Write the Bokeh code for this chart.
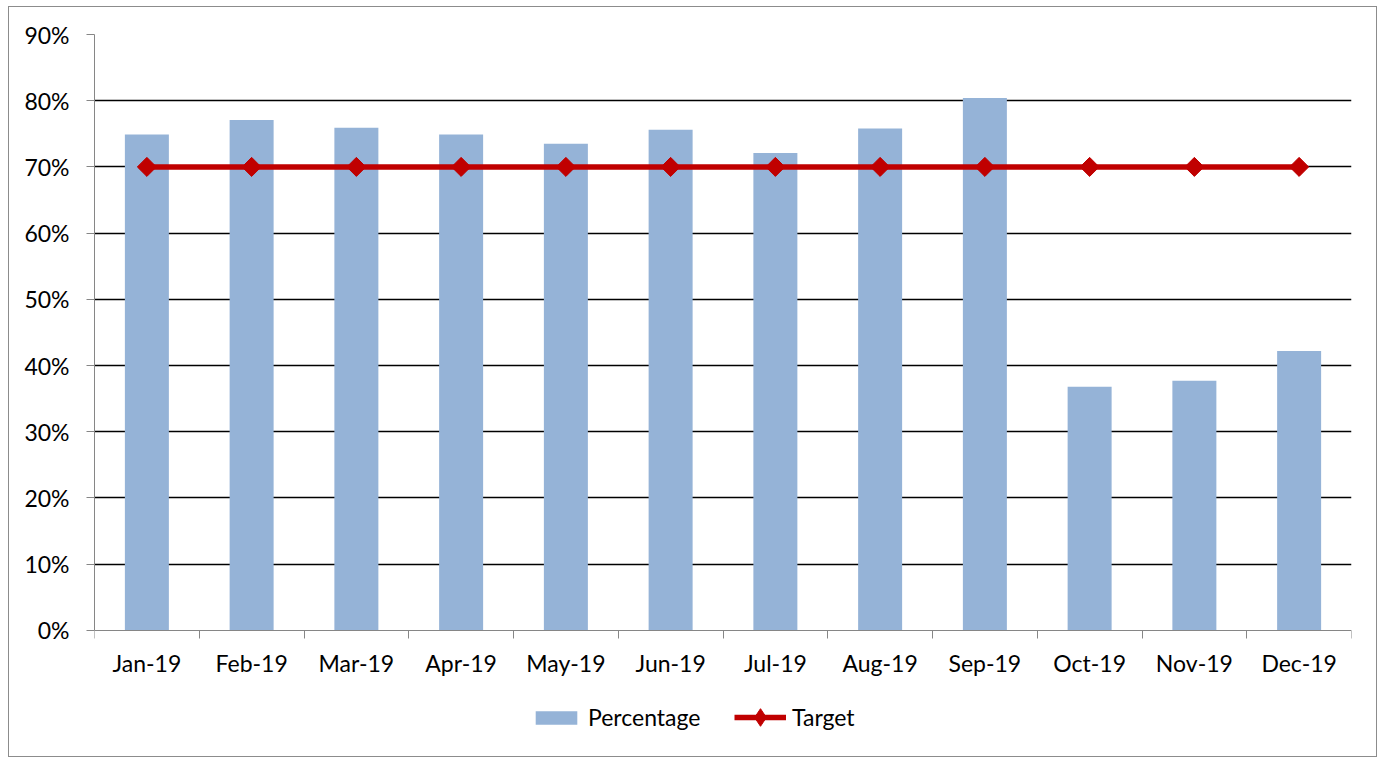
from bokeh.plotting import figure
from bokeh.models import (ColumnDataSource, FixedTicker, NumeralTickFormatter,
                          Legend, LegendItem, Range1d)
from bokeh.embed import file_html
from bokeh.resources import INLINE
import math

months = ["Jan-19", "Feb-19", "Mar-19", "Apr-19", "May-19", "Jun-19",
          "Jul-19", "Aug-19", "Sep-19", "Oct-19", "Nov-19", "Dec-19"]
percentage = [0.749, 0.771, 0.759, 0.749, 0.735, 0.756,
              0.721, 0.758, 0.804, 0.368, 0.377, 0.422]
target = [0.70, 0.70, 0.70, 0.70, 0.70, 0.70,
          0.70, 0.70, 0.70, 0.70, 0.70, 0.70]
y_ticks = [0.0, 0.1, 0.2, 0.3, 0.4, 0.5, 0.6, 0.7, 0.8, 0.9]

FONT = "Lato"
FS = "23px"
BAR = "#95B3D7"
RED = "#C00000"
GRAY = "#868686"

# layout (screen px): plot frame spans from top 35 to bottom 750, value 0 sits at 630
TOP, ZERO, BOTTOM = 35, 630, 750
ymax = 0.9
ymin = -ymax * (BOTTOM - ZERO) / (ZERO - TOP)

xc = [i + 0.5 for i in range(len(months))]
src = ColumnDataSource(dict(x=xc, pct=percentage, tgt=target, m=months))

p = figure(width=1369, height=751, output_backend="svg", toolbar_location=None,
           x_range=Range1d(0, len(months)), y_range=Range1d(ymin, ymax),
           min_border_left=85, min_border_right=27, min_border_top=27,
           min_border_bottom=8)
p.styles = {"border": "1px solid #8c8c8c", "box-sizing": "border-box",
            "margin": "6px 0 0 8px"}
p.outline_line_color = None
p.background_fill_color = "white"
p.border_fill_color = "white"

bars = p.vbar(x="x", top="pct", bottom=0, width=0.42, source=src,
              fill_color=BAR, line_color=None)
line = p.line(x="x", y="tgt", source=src, line_color=RED, line_width=5.5)
# diamond used for the legend swatch (hidden beneath the rotated squares)
leg_marks = p.scatter(x="x", y="tgt", source=src, marker="diamond", size=17,
                      fill_color=RED, line_color=RED)
marks = p.scatter(x="x", y="tgt", source=src, marker="square", size=13.5,
                  angle=math.pi / 4, fill_color=RED, line_color=RED)

# x axis, pinned at value 0
p.xaxis.fixed_location = 0
p.xaxis.ticker = FixedTicker(ticks=xc, minor_ticks=list(range(len(months) + 1)))
p.xaxis.major_label_overrides = {x: m for x, m in zip(xc, months)}
p.xaxis.major_tick_out = 0
p.xaxis.major_tick_in = 0
p.xaxis.minor_tick_out = 8
p.xaxis.minor_tick_in = 0
p.xaxis.minor_tick_line_color = GRAY
p.xaxis.axis_line_color = GRAY
p.xaxis.major_label_standoff = 11
p.xaxis.major_label_text_font = FONT
p.xaxis.major_label_text_font_size = FS
p.xaxis.major_label_text_color = "black"

# y axis
p.yaxis.ticker = FixedTicker(ticks=y_ticks)
p.yaxis.bounds = (0, ymax)
p.yaxis.formatter = NumeralTickFormatter(format="0%")
p.yaxis.major_tick_out = 8
p.yaxis.major_tick_in = 0
p.yaxis.minor_tick_line_color = None
p.yaxis.major_tick_line_color = GRAY
p.yaxis.axis_line_color = GRAY
p.yaxis.major_label_standoff = 17
p.yaxis.major_label_text_font = FONT
p.yaxis.major_label_text_font_size = FS
p.yaxis.major_label_text_color = "black"

p.xgrid.grid_line_color = None
p.ygrid.ticker = FixedTicker(ticks=y_ticks[1:])
p.ygrid.grid_line_color = "black"
p.ygrid.grid_line_width = 1.3

common = dict(orientation="horizontal", glyph_width=52, label_standoff=6,
              label_text_font=FONT, label_text_font_size=FS,
              label_text_color="black", border_line_color=None,
              background_fill_color=None, padding=0, margin=0)
legend_a = Legend(items=[LegendItem(label="Percentage", renderers=[bars])],
                  location=(436, 19), glyph_height=17, **common)
legend_b = Legend(items=[LegendItem(label="Target", renderers=[line, leg_marks])],
                  location=(640, 11), glyph_height=44, **common)
p.add_layout(legend_a, "center")
p.add_layout(legend_b, "center")

open("out.html", "w").write(file_html(p, INLINE))
